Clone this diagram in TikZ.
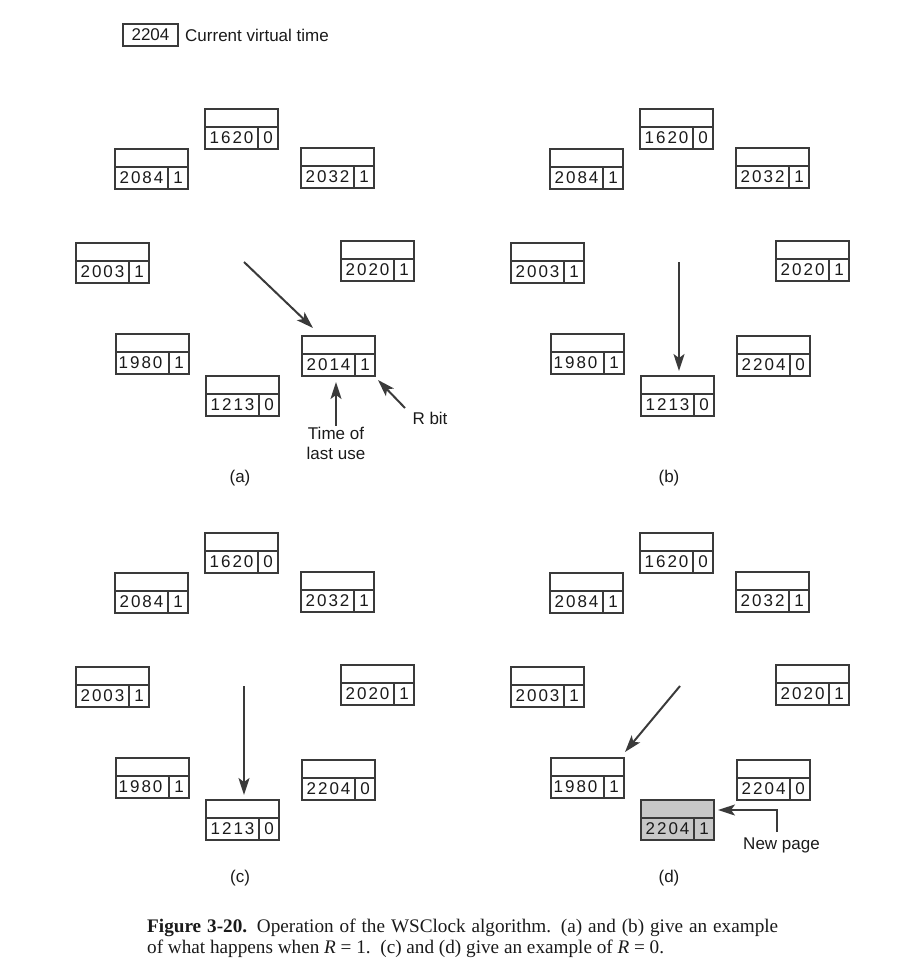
\documentclass[tikz,border=0pt]{standalone}
\usepackage{fontspec}
\setmainfont{Liberation Sans}
\newfontfamily\capserif{Liberation Serif}
\newfontfamily\spaceddigits{Liberation Sans}[LetterSpace=12]
\usetikzlibrary{arrows.meta,calc}

\definecolor{ink}{HTML}{3A3A3A}
\definecolor{txt}{HTML}{1A1A1A}
\definecolor{pagefill}{HTML}{C8C8C8}

\tikzset{
  frame/.style={draw=ink, line width=1.8pt, minimum width=73pt, minimum height=40pt,
                inner sep=0pt, outer sep=0pt},
  frameline/.style={draw=ink, line width=1.8pt},
  cellnum/.style={font=\fontsize{17}{17}\selectfont\spaceddigits, text=txt, inner sep=0pt},
  lbl/.style={font=\fontsize{17}{20}\selectfont, text=txt, inner sep=1pt, align=center},
  ptr/.style={draw=ink, line width=2pt, -{Stealth[length=17pt,width=11pt,inset=4pt]}},
}

% one page frame: [fill] name, left x, top y, time of last use, R bit
\newcommand\pagecell[6][white]{%
  \node[frame, fill=#1] (#2) at (#3+36.5,#4+20) {};
  \draw[frameline] ($(#2.north west)+(0,18)$) -- ($(#2.north east)+(0,18)$);
  \draw[frameline] ($(#2.north west)+(53,18)$) -- ($(#2.south west)+(53,0)$);
  \node[cellnum] at ($(#2.south west)+(26.5,-11)$) {#5};
  \node[cellnum] at ($(#2.south west)+(63,-11)$) {#6};
}

% the six frames that every panel shares: prefix, x shift, y shift
\newcommand\commonring[3]{%
  \pagecell{#1-1620}{205+#2}{109+#3}{1620}{0}
  \pagecell{#1-2032}{301+#2}{148+#3}{2032}{1}
  \pagecell{#1-2084}{115+#2}{149+#3}{2084}{1}
  \pagecell{#1-2020}{341+#2}{241+#3}{2020}{1}
  \pagecell{#1-2003}{76+#2}{243+#3}{2003}{1}
  \pagecell{#1-1980}{116+#2}{334+#3}{1980\kern4pt}{1}
}

\begin{document}
\begin{tikzpicture}[x=1pt,y=-1pt]
\useasboundingbox (0,0) rectangle (902,963);

% legend
\node[frame, minimum width=55pt, minimum height=22pt, font=\fontsize{17}{17}\selectfont, text=txt]
  (clock) at (150.5,35) {2204};
\node[lbl, anchor=west] (clocktxt) at (184,35) {Current virtual time};

% ---- (a)
\commonring{a}{0}{0}
\pagecell{a-2014}{302}{336}{2014}{1}
\pagecell{a-1213}{206}{376}{1213}{0}
\coordinate (hubA) at (244,262);
\draw[ptr] (hubA) -- ($(a-2014.north west)+(11,-8)$);
\node[lbl] (tlu) at (336,443) {Time of\\last use};
\draw[ptr] (tlu.north) -- ($(tlu.north |- a-2014.south)+(0,6)$);
\node[lbl] (rbit) at (430,418) {R bit};
\coordinate (rbtail) at (405,408);
\draw[ptr] (rbtail) -- ($(a-2014.south east)+(3,4)$);
\node[lbl] (capA) at (240,478) {(a)};

% ---- (b)
\commonring{b}{435}{0}
\pagecell{b-2204}{737}{336}{2204}{0}
\pagecell{b-1213}{641}{376}{1213}{0}
\coordinate (hubB) at (679,262);
\draw[ptr] (hubB) -- ($(hubB |- b-1213.north)+(0,-5)$);
\node[lbl] (capB) at (669,478) {(b)};

% ---- (c)
\commonring{c}{0}{424}
\pagecell{c-2204}{302}{760}{2204}{0}
\pagecell{c-1213}{206}{800}{1213}{0}
\coordinate (hubC) at (244,686);
\draw[ptr] (hubC) -- ($(hubC |- c-1213.north)+(0,-5)$);
\node[lbl] (capC) at (240,878) {(c)};

% ---- (d)
\commonring{d}{435}{424}
\pagecell{d-2204}{737}{760}{2204}{0}
\pagecell[pagefill]{d-new}{641}{800}{2204}{1}
\coordinate (hubD) at (680,686);
\draw[ptr] (hubD) -- ($(d-1980.north east)+(1,-6)$);
\node[lbl] (newpage) at (781.5,845) {New page};
\coordinate (nptail) at (777,832);
\draw[ptr] (nptail) |- ($(d-new.east)+(4,-10)$);
\node[lbl] (capD) at (669,878) {(d)};

% caption
\node[anchor=base west, inner sep=0pt, font=\fontsize{19.2}{20}\capserif, text=txt] (cap1) at (147,932)
  {\makebox[631pt][s]{\textbf{Figure 3-20.} Operation of the WSClock algorithm. (a) and (b) give an example}};
\node[anchor=base west, inner sep=0pt, font=\fontsize{19.2}{20}\capserif, text=txt] (cap2) at (147,953)
  {of what happens when \textit{R}~=~1.\ \ (c) and (d) give an example of \textit{R}~=~0.};
\end{tikzpicture}
\end{document}
